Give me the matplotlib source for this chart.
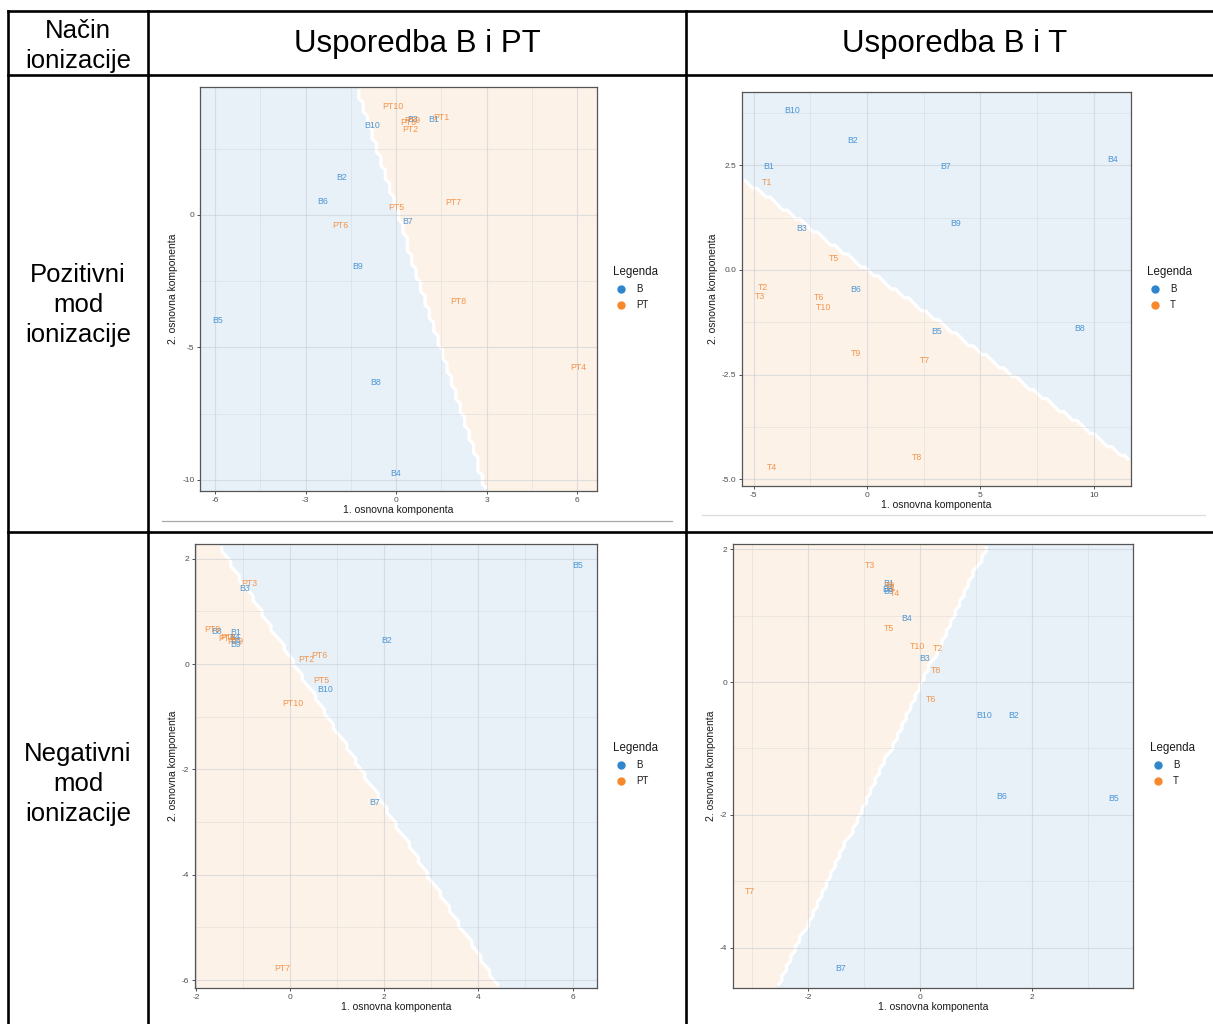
import numpy as np
import matplotlib
matplotlib.use("Agg")
import matplotlib.pyplot as plt
from matplotlib.colors import ListedColormap
from matplotlib.lines import Line2D

plt.rcParams['font.family'] = ['Liberation Sans', 'DejaVu Sans']

W, H = 1213, 1024

# ---------------- data ----------------
# Panel 1: Pozitivni mod, B vs PT
p1_b_labels = ["B1", "B2", "B3", "B4", "B5", "B6", "B7", "B8", "B9", "B10"]
p1_b_x = [1.24, -1.79, 0.55, 0.00, -5.90, -2.44, 0.37, -0.68, -1.28, -0.79]
p1_b_y = [3.62, 1.43, 3.60, -9.75, -3.98, 0.50, -0.26, -6.31, -1.95, 3.36]
p1_t_labels = ["PT1", "PT2", "PT3", "PT4", "PT5", "PT6", "PT7", "PT8", "PT9", "PT10"]
p1_t_x = [1.51, 0.46, 0.40, 6.04, 0.00, -1.85, 1.89, 2.07, 0.55, -0.12]
p1_t_y = [3.67, 3.21, 3.48, -5.77, 0.30, -0.40, 0.47, -3.25, 3.55, 4.09]

# Panel 2: Pozitivni mod, B vs T
p2_b_labels = ["B1", "B2", "B3", "B4", "B5", "B6", "B7", "B8", "B9", "B10"]
p2_b_x = [-4.35, -0.62, -2.89, 10.81, 3.05, -0.48, 3.46, 9.37, 3.92, -3.28]
p2_b_y = [2.48, 3.09, 0.99, 2.63, -1.46, -0.47, 2.46, -1.41, 1.11, 3.82]
p2_t_labels = ["T1", "T2", "T3", "T4", "T5", "T6", "T7", "T8", "T9", "T10"]
p2_t_x = [-4.41, -4.60, -4.73, -4.20, -1.44, -2.10, 2.57, 2.20, -0.47, -1.91]
p2_t_y = [2.08, -0.42, -0.63, -4.73, 0.27, -0.66, -2.16, -4.48, -2.00, -0.89]

# Panel 3: Negativni mod, B vs PT
p3_b_labels = ["B1", "B2", "B3", "B4", "B5", "B6", "B7", "B8", "B9", "B10"]
p3_b_x = [-1.15, 2.05, -0.96, -1.17, 6.11, -1.15, 1.80, -1.56, -1.16, 0.74]
p3_b_y = [0.60, 0.45, 1.44, 0.50, 1.87, 0.44, -2.62, 0.61, 0.37, -0.48]
p3_t_labels = ["PT1", "PT2", "PT3", "PT4", "PT5", "PT6", "PT7", "PT8", "PT9", "PT10"]
p3_t_x = [-1.32, 0.35, -0.86, -1.35, 0.67, 0.62, -0.17, -1.66, -1.17, 0.05]
p3_t_y = [0.51, 0.09, 1.53, 0.48, -0.31, 0.16, -5.78, 0.65, 0.42, -0.74]

# Panel 4: Negativni mod, B vs T
p4_b_labels = ["B1", "B2", "B3", "B4", "B5", "B6", "B7", "B8", "B9", "B10"]
p4_b_x = [-0.56, 1.67, 0.09, -0.23, 3.47, 1.47, -1.42, -0.58, -0.55, 1.14]
p4_b_y = [1.48, -0.50, 0.35, 0.95, -1.76, -1.73, -4.31, 1.40, 1.36, -0.50]
p4_t_labels = ["T1", "T2", "T3", "T4", "T5", "T6", "T7", "T8", "T9", "T10"]
p4_t_x = [-0.51, 0.33, -0.89, -0.45, -0.55, 0.20, -3.03, 0.29, -0.53, -0.05]
p4_t_y = [1.43, 0.50, 1.76, 1.34, 0.81, -0.27, -3.16, 0.17, 1.45, 0.54]

# decision boundaries (two points on each separating line)
p1_boundary = [(-1.30, 4.83), (3.00, -10.42)]
p2_boundary = [(-5.51, 2.18), (11.64, -4.58)]
p3_boundary = [(-1.53, 2.28), (4.45, -6.15)]
p4_boundary = [(1.22, 2.08), (-2.55, -4.61)]

col_headers = ["Način\nionizacije", "Usporedba B i PT", "Usporedba B i T"]
row_headers = ["Pozitivni\nmod\nionizacije", "Negativni\nmod\nionizacije"]

# ---------------- style ----------------
BLUE_FILL = '#e8f0f8'
ORANGE_FILL = '#fdf2e8'
BLUE_TXT = '#3d8dd2'
ORANGE_TXT = '#f28b3a'
BLUE_DOT = '#2f86cc'
ORANGE_DOT = '#f7882c'

fig = plt.figure(figsize=(W / 100, H / 100), dpi=100)


def fx(px):
    return px / W


def fy(py):
    return 1 - py / H


def add_ax(x0, y0, x1, y1):
    return fig.add_axes([fx(x0), fy(y1), (x1 - x0) / W, (y1 - y0) / H])


def panel(box, xlim, ylim, xticks, xtl, yticks, ytl, xminor, yminor,
          b, t, boundary, blue_ref, legend_xy, t_name):
    ax = add_ax(*box)
    ax.set_xlim(*xlim)
    ax.set_ylim(*ylim)
    n = 90
    xe = np.linspace(xlim[0], xlim[1], n + 1)
    ye = np.linspace(ylim[0], ylim[1], n + 1)
    xc = 0.5 * (xe[:-1] + xe[1:])
    yc = 0.5 * (ye[:-1] + ye[1:])
    X, Y = np.meshgrid(xc, yc)
    (x1, y1), (x2, y2) = boundary

    def side(px, py):
        return (x2 - x1) * (py - y1) - (y2 - y1) * (px - x1)
    sref = np.sign(side(*blue_ref))
    Z = (np.sign(side(X, Y)) == sref).astype(float)
    ax.pcolormesh(xe, ye, Z, cmap=ListedColormap([ORANGE_FILL, BLUE_FILL]),
                  vmin=0, vmax=1, shading='flat', zorder=0)
    ax.contour(xc, yc, Z, levels=[0.5], colors='white', linewidths=2.4, zorder=1)
    for v in xticks:
        ax.axvline(v, color='#c8ccd2', lw=0.8, alpha=0.55, zorder=2)
    for v in xminor:
        ax.axvline(v, color='#c8ccd2', lw=0.5, alpha=0.45, zorder=2)
    for v in yticks:
        ax.axhline(v, color='#c8ccd2', lw=0.8, alpha=0.55, zorder=2)
    for v in yminor:
        ax.axhline(v, color='#c8ccd2', lw=0.5, alpha=0.45, zorder=2)
    for labs, xs, ys, c in [(b[0], b[1], b[2], BLUE_TXT), (t[0], t[1], t[2], ORANGE_TXT)]:
        for l, xx, yy in zip(labs, xs, ys):
            ax.text(xx, yy, l, ha='center', va='center', fontsize=6.3,
                    color=c, alpha=0.9, zorder=3)
    ax.set_xticks(xticks)
    ax.set_xticklabels(xtl)
    ax.set_yticks(yticks)
    ax.set_yticklabels(ytl)
    ax.tick_params(length=2.5, width=0.6, color='#333333', labelsize=6,
                   labelcolor='#4d4d4d', pad=1.5)
    for s in ax.spines.values():
        s.set_color('#555555')
        s.set_linewidth(0.9)
    ax.set_xlabel("1. osnovna komponenta", fontsize=7.5, color='#1a1a1a', labelpad=1)
    ax.set_ylabel("2. osnovna komponenta", fontsize=7.5, color='#1a1a1a', labelpad=3)
    lx, ly = legend_xy
    fig.text(fx(lx), fy(ly), "Legenda", fontsize=8.3, color='#1a1a1a',
             ha='left', va='center')
    for i, (name, c) in enumerate([("B", BLUE_DOT), (t_name, ORANGE_DOT)]):
        yy = ly + 17 + 15.5 * i
        fig.add_artist(Line2D([fx(lx + 8)], [fy(yy)], marker='o', ms=5,
                              color=c, transform=fig.transFigure, lw=0))
        fig.text(fx(lx + 23), fy(yy), name, fontsize=7, color='#1a1a1a',
                 ha='left', va='center')
    return ax


panel((200, 87, 597, 491), (-6.5, 6.66), (-10.42, 4.83),
      [-6, -3, 0, 3, 6], ["-6", "-3", "0", "3", "6"],
      [-10, -5, 0], ["-10", "-5", "0"],
      [-4.5, -1.5, 1.5, 4.5], [-7.5, -2.5, 2.5],
      (p1_b_labels, p1_b_x, p1_b_y), (p1_t_labels, p1_t_x, p1_t_y),
      p1_boundary, (-6, -10), (613, 272), "PT")

panel((742, 92, 1131, 486), (-5.51, 11.64), (-5.16, 4.25),
      [-5, 0, 5, 10], ["-5", "0", "5", "10"],
      [-5, -2.5, 0, 2.5], ["-5.0", "-2.5", "0.0", "2.5"],
      [-2.5, 2.5, 7.5], [-3.75, -1.25, 1.25, 3.75],
      (p2_b_labels, p2_b_x, p2_b_y), (p2_t_labels, p2_t_x, p2_t_y),
      p2_boundary, (10, 3), (1147, 272), "T")

panel((195, 544, 597, 988), (-2.02, 6.52), (-6.15, 2.28),
      [-2, 0, 2, 4, 6], ["-2", "0", "2", "4", "6"],
      [-6, -4, -2, 0, 2], ["-6", "-4", "-2", "0", "2"],
      [-1, 1, 3, 5], [-5, -3, -1, 1],
      (p3_b_labels, p3_b_x, p3_b_y), (p3_t_labels, p3_t_x, p3_t_y),
      p3_boundary, (6, 2), (613, 748), "PT")

panel((733, 544, 1133, 988), (-3.34, 3.81), (-4.61, 2.08),
      [-2, 0, 2], ["-2", "0", "2"],
      [-4, -2, 0, 2], ["-4", "-2", "0", "2"],
      [-3, -1, 1, 3], [-3, -1, 1],
      (p4_b_labels, p4_b_x, p4_b_y), (p4_t_labels, p4_t_x, p4_t_y),
      p4_boundary, (3, -4), (1150, 748), "T")

# gray separators under top plots
fig.add_artist(Line2D([fx(162), fx(672)], [fy(521), fy(521)], color='#a8a8a8',
                      lw=0.9, transform=fig.transFigure))
fig.add_artist(Line2D([fx(702), fx(1205)], [fy(515), fy(515)], color='#dcdcdc',
                      lw=0.9, transform=fig.transFigure))

# table lines
tl = dict(color='black', lw=1.9, transform=fig.transFigure, solid_capstyle='projecting')
for yy in [11, 75, 532]:
    fig.add_artist(Line2D([fx(8), fx(1213)], [fy(yy), fy(yy)], **tl))
for xx in [8, 148, 686]:
    fig.add_artist(Line2D([fx(xx), fx(xx)], [fy(11), fy(1024)], **tl))

# headers
fig.text(fx(78), fy(46), col_headers[0], fontsize=18.5, ha='center', va='center',
         linespacing=1.28)
fig.text(fx(417), fy(44), col_headers[1], fontsize=22.5, ha='center', va='center')
fig.text(fx(955), fy(44), col_headers[2], fontsize=22.5, ha='center', va='center')
fig.text(fx(78), fy(305), row_headers[0], fontsize=18.5, ha='center', va='center',
         linespacing=1.32)
fig.text(fx(78), fy(784), row_headers[1], fontsize=18.5, ha='center', va='center',
         linespacing=1.32)

fig.savefig("out.png", dpi=100)
